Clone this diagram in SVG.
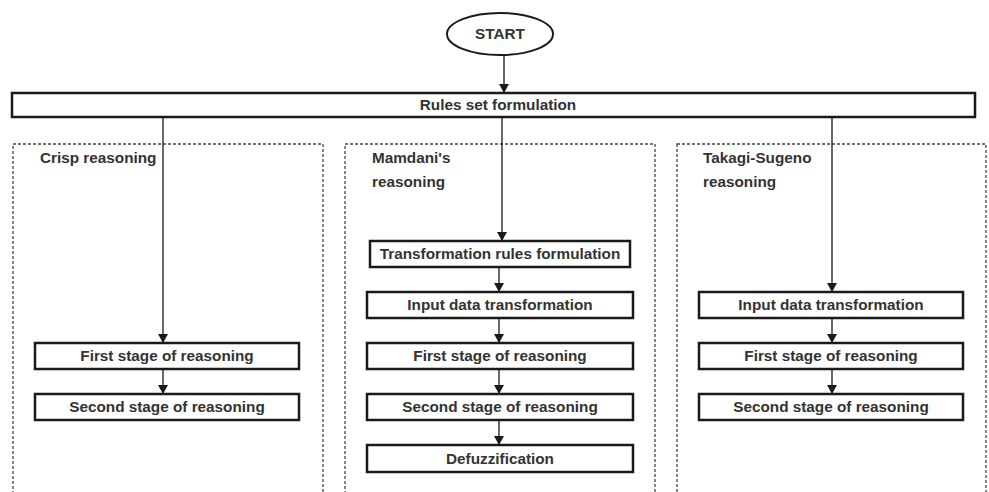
<svg xmlns="http://www.w3.org/2000/svg" width="989" height="492" viewBox="0 0 989 492">
<defs>
<marker id="ah" markerWidth="10" markerHeight="10" refX="9" refY="5" orient="auto" markerUnits="userSpaceOnUse" viewBox="0 0 10 10">
<path d="M0,0 L9,5 L0,10 Z" fill="#1a1a1a"/>
</marker>
<style>
.box{fill:#fff;stroke:#1a1a1a;stroke-width:2.5}
.grp{fill:none;stroke:#444;stroke-width:1.3;stroke-dasharray:3 2}
.t{font-family:"Liberation Sans",Arial,sans-serif;font-weight:bold;font-size:15.3px;fill:#333;text-anchor:middle}
.h{font-family:"Liberation Sans",Arial,sans-serif;font-weight:bold;font-size:15.3px;fill:#333}
.c{stroke:#1a1a1a;stroke-width:1.3;fill:none;marker-end:url(#ah)}
</style>
</defs>
<rect width="989" height="492" fill="#fff"/>
<g id="group-crisp"><rect class="grp" x="13" y="144" width="310" height="360"/><text class="h" x="40" y="163">Crisp reasoning</text></g>
<g id="group-mamdani"><rect class="grp" x="345" y="144" width="310" height="360"/><text class="h" x="372" y="163">Mamdani's</text><text class="h" x="372" y="187">reasoning</text></g>
<g id="group-takagi"><rect class="grp" x="677" y="144" width="309" height="360"/><text class="h" x="703" y="163">Takagi-Sugeno</text><text class="h" x="703" y="187">reasoning</text></g>
<g id="connectors">
<line class="c" x1="504" y1="55" x2="504" y2="93"/>
<line class="c" x1="163" y1="117" x2="163" y2="343"/>
<line class="c" x1="502" y1="117" x2="502" y2="241"/>
<line class="c" x1="832" y1="117" x2="832" y2="292"/>
<line class="c" x1="499" y1="267" x2="499" y2="292"/>
<line class="c" x1="499" y1="318" x2="499" y2="343"/>
<line class="c" x1="499" y1="369" x2="499" y2="394"/>
<line class="c" x1="499" y1="420" x2="499" y2="445"/>
<line class="c" x1="163" y1="369" x2="163" y2="394"/>
<line class="c" x1="832" y1="318" x2="832" y2="343"/>
<line class="c" x1="832" y1="369" x2="832" y2="394"/>
</g>
<g id="start"><ellipse cx="500" cy="34" rx="53" ry="21" fill="#fff" stroke="#1a1a1a" stroke-width="2"/><text class="t" x="500" y="39">START</text></g>
<g id="rules"><rect class="box" x="12" y="93" width="963" height="24" stroke-width="2"/><text class="t" x="498" y="110">Rules set formulation</text></g>
<g id="crisp-first"><rect class="box" x="35" y="343" width="264" height="26"/><text class="t" x="167" y="361">First stage of reasoning</text></g>
<g id="crisp-second"><rect class="box" x="35" y="394" width="264" height="26"/><text class="t" x="167" y="412">Second stage of reasoning</text></g>
<g id="m-trans"><rect class="box" x="370" y="241" width="260" height="26"/><text class="t" x="500" y="259">Transformation rules formulation</text></g>
<g id="m-input"><rect class="box" x="367" y="292" width="266" height="26"/><text class="t" x="500" y="310">Input data transformation</text></g>
<g id="m-first"><rect class="box" x="367" y="343" width="266" height="26"/><text class="t" x="500" y="361">First stage of reasoning</text></g>
<g id="m-second"><rect class="box" x="367" y="394" width="266" height="26"/><text class="t" x="500" y="412">Second stage of reasoning</text></g>
<g id="m-defuzz"><rect class="box" x="367" y="445" width="266" height="27"/><text class="t" x="500" y="464">Defuzzification</text></g>
<g id="t-input"><rect class="box" x="699" y="292" width="264" height="26"/><text class="t" x="831" y="310">Input data transformation</text></g>
<g id="t-first"><rect class="box" x="699" y="343" width="264" height="26"/><text class="t" x="831" y="361">First stage of reasoning</text></g>
<g id="t-second"><rect class="box" x="699" y="394" width="264" height="26"/><text class="t" x="831" y="412">Second stage of reasoning</text></g>
</svg>
